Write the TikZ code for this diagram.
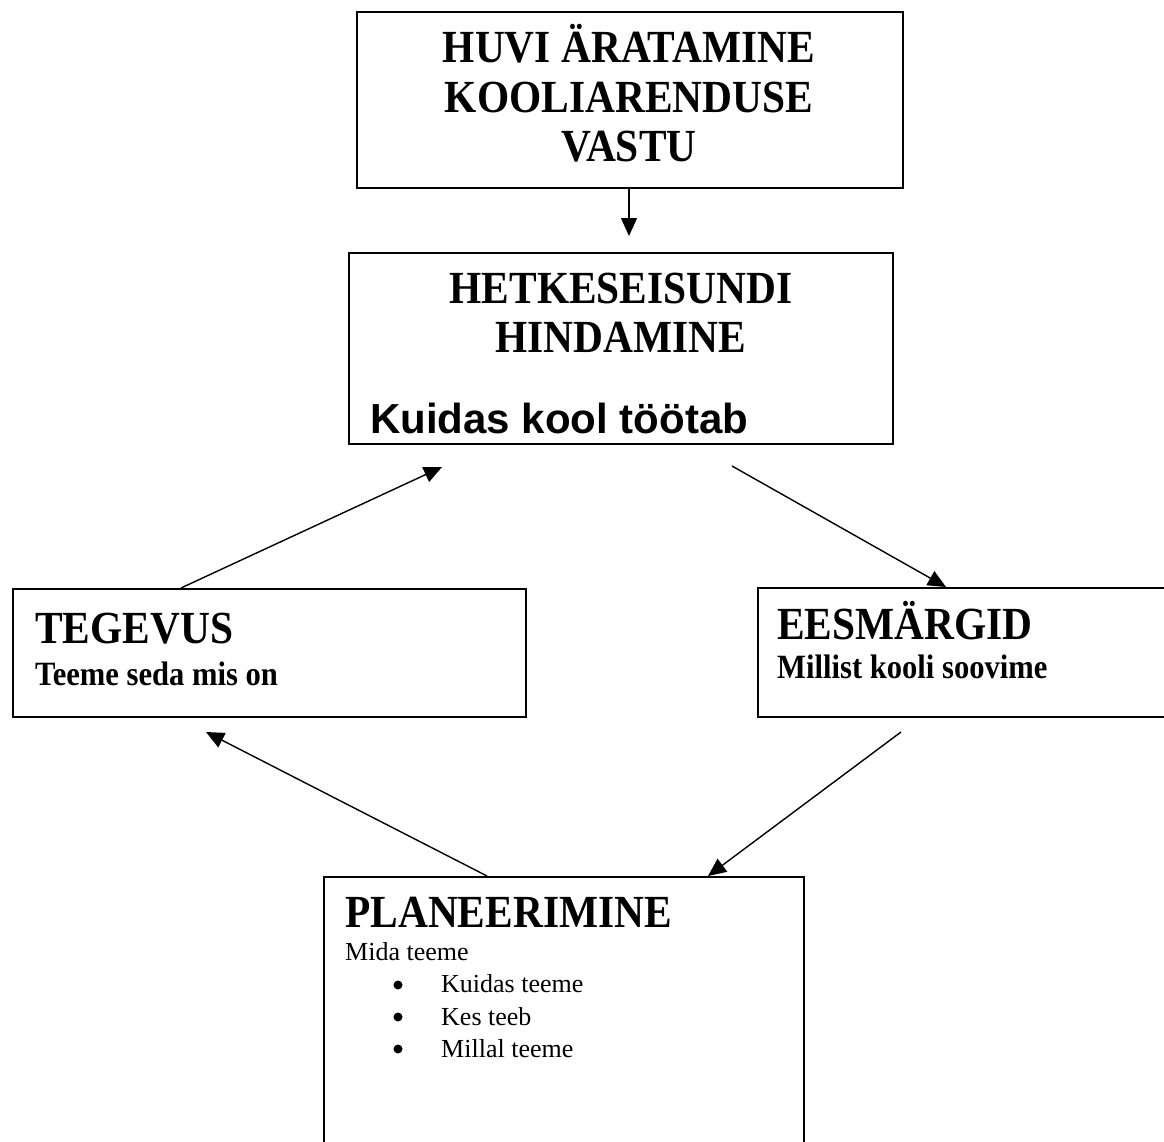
\documentclass[tikz,border=0pt]{standalone}
\usepackage{fontspec}
\setmainfont{Liberation Serif}
\setsansfont{Liberation Sans}
\newfontfamily\condserif{Liberation Serif}[FakeStretch=0.9]
\usetikzlibrary{arrows.meta}
\tikzset{
  box/.style={draw=black, line width=1.6pt, rectangle, anchor=north west, inner sep=0pt},
  head/.style={font=\condserif\bfseries\fontsize{46}{50}\selectfont, inner sep=0pt},
  sub/.style={font=\condserif\bfseries\fontsize{34}{36}\selectfont, inner sep=0pt},
  plain/.style={font=\fontsize{26}{30}\selectfont, inner sep=0pt},
  arial/.style={font=\sffamily\bfseries\fontsize{42}{50}\selectfont, inner sep=0pt},
  dot/.style={circle, fill=black, inner sep=0pt, minimum size=9pt},
  conn/.style={line width=1.4pt, -{Triangle[length=18pt,width=16pt]}}
}
\begin{document}
\begin{tikzpicture}[x=1pt,y=-1pt]
\path[use as bounding box, clip] (0,0) rectangle (1164,1142);
\fill[white] (0,0) rectangle (1164,1142);
% boxes
\node[box, minimum width=546pt, minimum height=176pt] (top) at (356,11) {};
\node[box, minimum width=544pt, minimum height=191pt] (mid) at (348,252) {};
\node[box, minimum width=513pt, minimum height=128pt] (left) at (12,588) {};
\node[box, minimum width=440pt, minimum height=129pt] (right) at (757,587) {};
\node[box, minimum width=480pt, minimum height=300pt] (bot) at (323,876) {};
% top texts
\node[head, anchor=base] (t1) at (629,63) {HUVI ÄRATAMINE};
\node[head, anchor=base] (t2) at (629,113) {KOOLIARENDUSE};
\node[head, anchor=base] (t3) at (629,162) {VASTU};
% middle texts
\node[head, anchor=base] (m1) at (621,303) {HETKESEISUNDI};
\node[head, anchor=base] (m2) at (621,352) {HINDAMINE};
\node[arial, anchor=base west] (m3) at (370,433) {Kuidas kool töötab};
% left texts
\node[head, anchor=base west] (l1) at (35,643) {TEGEVUS};
\node[sub, anchor=base west] (l2) at (35,685) {Teeme seda mis on};
% right texts
\node[head, anchor=base west] (r1) at (777,639) {EESMÄRGID};
\node[sub, anchor=base west] (r2) at (777,678) {Millist kooli soovime};
% bottom texts
\node[head, anchor=base west] (b1) at (345,927) {PLANEERIMINE};
\node[plain, anchor=base west] (b2) at (345,960) {Mida teeme};
\node[dot] (bu1) at (398,985) {};
\node[plain, anchor=base west] (b3) at (441,992) {Kuidas teeme};
\node[dot] (bu2) at (398,1017) {};
\node[plain, anchor=base west] (b4) at (441,1025) {Kes teeb};
\node[dot] (bu3) at (398,1049) {};
\node[plain, anchor=base west] (b5) at (441,1057) {Millal teeme};
% free ends
\coordinate (e1) at (629,236);
\coordinate (e2) at (442,467);
\coordinate (s3) at (732,466);
\coordinate (s4) at (901,732);
\coordinate (e5) at (206,732);
% connectors
\draw[conn] (top.south -| e1) -- (e1);
\draw[conn] ([xshift=169pt]left.north west) -- (e2);
\draw[conn] (s3) -- ([xshift=189pt]right.north west);
\draw[conn] (s4) -- ([xshift=385pt]bot.north west);
\draw[conn] ([xshift=164pt]bot.north west) -- (e5);
\end{tikzpicture}
\end{document}
